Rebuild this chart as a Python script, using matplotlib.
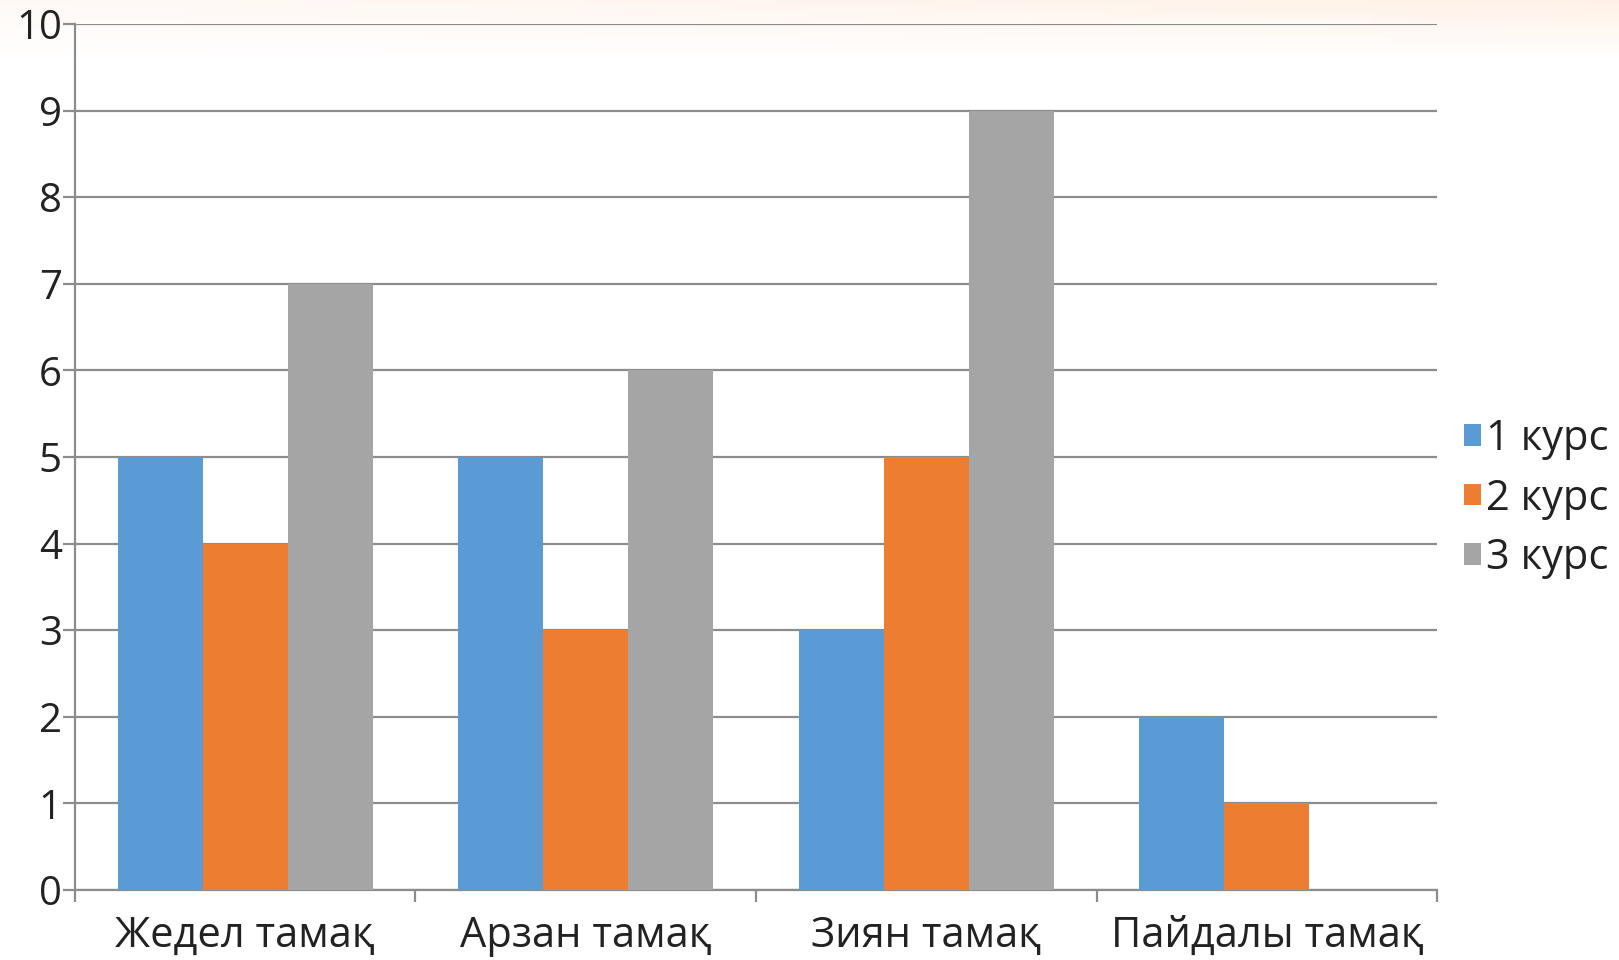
import numpy as np
import matplotlib.pyplot as plt

categories = ["Жедел тамақ", "Арзан тамақ", "Зиян тамақ", "Пайдалы тамақ"]
series_names = ["1 курс", "2 курс", "3 курс"]
kurs1 = [5, 5, 3, 2]
kurs2 = [4, 3, 5, 1]
kurs3 = [7, 6, 9, 0]
colors = ["#5B9BD5", "#ED7D31", "#A5A5A5"]

plt.rcParams['font.family'] = ['Open Sans', 'DejaVu Sans']

fig = plt.figure(figsize=(16.19, 9.6), dpi=100)
fig.patch.set_facecolor("white")

# faint warm glow along the top edge
bg = fig.add_axes([0, 0, 1, 1], zorder=-5)
gy = np.linspace(0, 1, 200).reshape(-1, 1)
gx = np.linspace(0, 1, 300).reshape(1, -1)
rgb = np.ones((200, 300, 3))
warm = np.clip((gy - 0.94) / 0.06, 0, 1) * (0.025 + 0.04 * gx)
rgb[:, :, 1] -= warm * 0.8
rgb[:, :, 2] -= warm * 1.4
bg.imshow(rgb, aspect="auto", extent=[0, 1, 0, 1], origin="lower")
bg.axis("off")

ax = fig.add_axes([0.0463, 0.0729, 0.8413, 0.9021])
ax.patch.set_alpha(0)

x = np.arange(len(categories))
w = 0.25
for i, (vals, name) in enumerate(zip([kurs1, kurs2, kurs3], series_names)):
    ax.bar(x + (i - 1) * w, vals, width=w, color=colors[i], label=name, zorder=3)

ax.set_xlim(-0.5, len(categories) - 0.5)
ax.set_ylim(0, 10)
ax.set_yticks(range(0, 11))
ax.yaxis.grid(True, color="#8c8c8c", linewidth=1.6)
ax.set_axisbelow(True)

for s in ["top", "right"]:
    ax.spines[s].set_visible(False)
for s in ["left", "bottom"]:
    ax.spines[s].set_color("#8c8c8c")
    ax.spines[s].set_linewidth(1.6)

ax.set_xticks(x)
ax.set_xticklabels(categories)
ax.set_xticks(np.arange(-0.5, len(categories)), minor=True)
ax.tick_params(axis="x", which="major", length=0, pad=18, labelsize=30)
ax.tick_params(axis="x", which="minor", length=8.5, width=1.6, color="#8c8c8c")
ax.tick_params(axis="y", length=8.5, width=1.6, color="#8c8c8c", pad=1, labelsize=29)
for lab in ax.get_yticklabels() + ax.get_xticklabels():
    lab.set_color("#222222")

leg = ax.legend(loc="center left", bbox_to_anchor=(1.0075, 0.452), frameon=False,
                fontsize=30, handlelength=0.42, handleheight=0.42,
                handletextpad=0.12, labelspacing=0.42, borderaxespad=0)
for t in leg.get_texts():
    t.set_color("#222222")

fig.savefig("out.png", dpi=100)
